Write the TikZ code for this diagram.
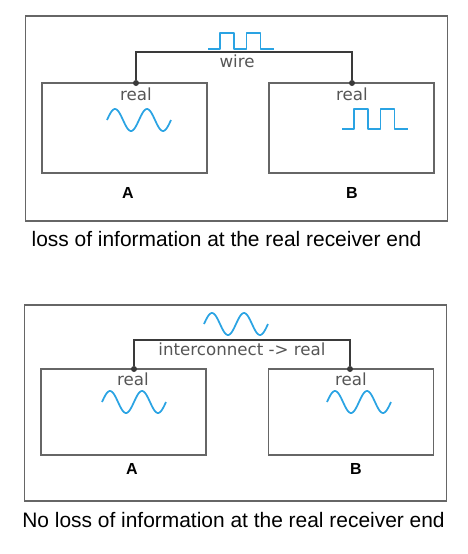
\documentclass[tikz,border=0pt]{standalone}
\usepackage{fontspec}
\setmainfont{Liberation Sans}
\newfontfamily\tagfont{DejaVu Sans}
\usetikzlibrary{positioning}

\definecolor{signalblue}{HTML}{2AA3E3}
\definecolor{framegray}{HTML}{666666}
\definecolor{wiregray}{HTML}{3A3A3A}
\definecolor{taggray}{HTML}{555555}

\begin{document}
\begin{tikzpicture}[
    x=0.75pt, y=-0.75pt,
    frame/.style={rectangle, draw=framegray, line width=1pt, minimum width=422*0.75pt, inner sep=0pt},
    block/.style={rectangle, draw=framegray, line width=0.9pt, minimum width=165*0.75pt, inner sep=0pt},
    wire/.style={draw=wiregray, line width=1.5pt},
    pin/.style={circle, fill=wiregray, inner sep=0pt, minimum size=6*0.75pt},
    tag/.style={text=taggray, font=\tagfont\fontsize{12.5}{14}\selectfont, inner sep=0pt},
    portname/.style={font=\bfseries\fontsize{12}{14}\selectfont, inner sep=0pt},
    caption/.style={font=\fontsize{15.7}{18}\selectfont, inner sep=0pt},
    signal/.style={draw=signalblue, line width=1.3pt, line join=round},
    sinewave/.pic={\draw[signal] plot[domain=0:2, samples=80, smooth] ({\x*32},{-11*sin(\x*360)});},
    squarewave/.pic={\draw[signal] (0,0) -- (12,0) -- (12,-18) -- (26,-18) -- (26,0) -- (38.5,0) -- (38.5,-18) -- (52.5,-18) -- (52.5,0) -- (66,0);}
]
\useasboundingbox (0,0) rectangle (468,554);

% top panel: wire
\node[frame, minimum height=205*0.75pt] (frameWire) at (236.5,118.5) {};
\node[block, minimum height=90*0.75pt] (srcWire) at (124.5,128) {};
\node[block, minimum height=90*0.75pt] (dstWire) at (351.5,128) {};
\node[pin] (pinA1) at (136,83) {};
\node[pin] (pinB1) at (352,83) {};
\coordinate (busWire) at (244,52);
\draw[wire] (pinA1) |- (busWire) -| (pinB1);
\node[tag] (lblWire) at (237,61) {wire};
\node[tag] (realA1) at (136,94) {real};
\node[tag] (realB1) at (352,94) {real};
\pic[yscale=0.9] at (208,49) {squarewave};
\pic at (107,120) {sinewave};
\pic[yscale=1.1] at (342,129) {squarewave};
\node[portname] (portA1) at (128,193) {A};
\node[portname] (portB1) at (352,193) {B};
\node[caption] (capWire) at (226.5,239) {loss of information at the real receiver end};

% bottom panel: interconnect
\node[frame, minimum height=196*0.75pt] (frameIc) at (235.5,403) {};
\node[block, minimum height=86*0.75pt] (srcIc) at (123.5,412) {};
\node[block, minimum height=86*0.75pt] (dstIc) at (351,412) {};
\node[pin] (pinA2) at (134,369) {};
\node[pin] (pinB2) at (350,369) {};
\coordinate (busIc) at (242,340);
\draw[wire] (pinA2) |- (busIc) -| (pinB2);
\node[tag] (lblIc) at (242,349) {interconnect -> real};
\node[tag] (realA2) at (133,379) {real};
\node[tag] (realB2) at (351,379) {real};
\pic at (204,324) {sinewave};
\pic at (102,402) {sinewave};
\pic at (327,402) {sinewave};
\node[portname] (portA2) at (132,469) {A};
\node[portname] (portB2) at (356,469) {B};
\node[caption] (capIc) at (233.5,520) {No loss of information at the real receiver end};
\end{tikzpicture}
\end{document}
